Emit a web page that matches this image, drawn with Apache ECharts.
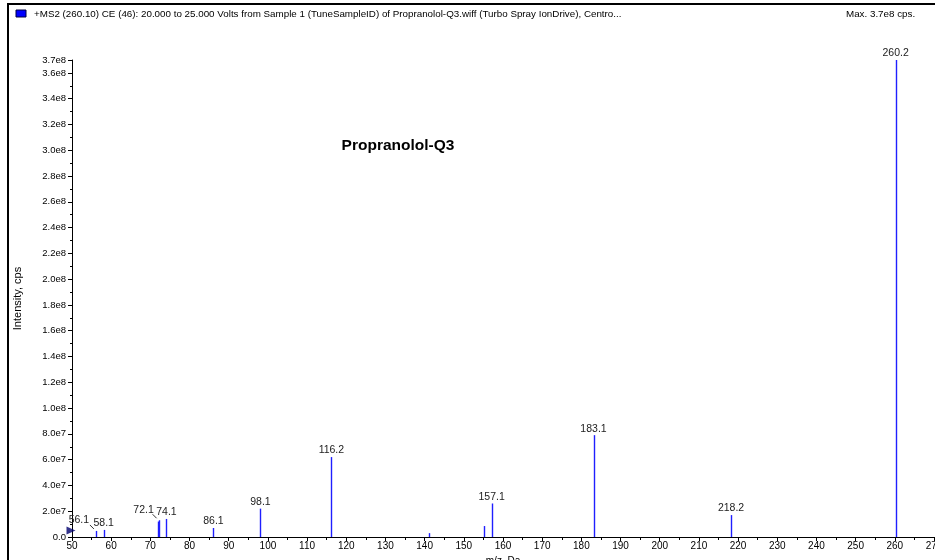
<!DOCTYPE html>
<html><head><meta charset="utf-8">
<script src="https://cdn.jsdelivr.net/npm/echarts@6/dist/echarts.min.js"></script>
<style>html,body{margin:0;padding:0;background:#fff}#c{width:935px;height:560px}</style>
</head><body><div id="c"></div>
<script>
// m/z of each peak, intensity (cps), printed label ('' = unlabeled)
var mz =        [56.1, 58.1, 71.9, 72.1, 74.1, 86.1, 98.1, 116.2, 141.0, 155.1, 157.1, 183.1, 218.2, 260.2];
var intensity = [4.7e6, 5.5e6, 1.2e7, 1.3e7, 1.4e7, 7.0e6, 2.2e7, 6.2e7, 3.0e6, 8.5e6, 2.6e7, 7.9e7, 1.7e7, 3.7e8];
var peakLabels = ['56.1', '58.1', '', '72.1', '74.1', '86.1', '98.1', '116.2', '', '', '157.1', '183.1', '218.2', '260.2'];
var precursor = [[50, 5.0e6]];
var xTicks = [50, 270, 10];
var yTicks = [0, 3.7e8, 2e7];
var headerText = '+MS2 (260.10) CE (46): 20.000 to 25.000 Volts from Sample 1 (TuneSampleID) of Propranolol-Q3.wiff (Turbo Spray IonDrive), Centro...';
var maxText = 'Max. 3.7e8 cps.';
var chartTitle = 'Propranolol-Q3';

var FONT = '"Liberation Sans", Arial, sans-serif';
var data = mz.map(function (m, i) { return [m, intensity[i], peakLabels[i]]; });
// labels that sit to the left of their line with a small leader
var shifted = { '56.1': -17, '72.1': -15 };

function fmtY(v) {
  if (v === 0) return '0.0';
  var e = Math.floor(Math.log10(v) + 1e-9);
  return (v / Math.pow(10, e)).toFixed(1) + 'e' + e;
}

var chart = echarts.init(document.getElementById('c'));
chart.setOption({
  animation: false,
  backgroundColor: '#fff',
  grid: { left: 72, right: 1, top: 60, bottom: 23, containLabel: false, outerBoundsMode: 'none' },
  title: {
    text: chartTitle, left: 393, top: 133, textAlign: 'center',
    textStyle: { fontFamily: FONT, fontSize: 15.5, fontWeight: 'bold', color: '#000' }
  },
  xAxis: {
    type: 'value', min: xTicks[0], max: xTicks[1], interval: xTicks[2],
    name: 'm/z, Da', nameLocation: 'middle', nameGap: 18,
    nameTextStyle: { fontFamily: FONT, fontSize: 10, color: '#000' },
    axisLine: { lineStyle: { color: '#000', width: 1 } },
    axisTick: { length: 4, lineStyle: { color: '#000' } },
    minorTick: { show: true, splitNumber: 2, length: 3, lineStyle: { color: '#000' } },
    axisLabel: { fontFamily: FONT, fontSize: 10, color: '#000', margin: 4 },
    splitLine: { show: false }
  },
  yAxis: {
    type: 'value', min: yTicks[0], max: yTicks[1], interval: yTicks[2],
    name: 'Intensity, cps', nameLocation: 'middle', nameGap: 49, nameRotate: 90,
    nameTextStyle: { fontFamily: FONT, fontSize: 11, color: '#000' },
    axisLine: { show: true, lineStyle: { color: '#000', width: 1 } },
    axisTick: { show: true, length: 4, lineStyle: { color: '#000' } },
    minorTick: { show: true, splitNumber: 2, length: 2, lineStyle: { color: '#000' } },
    axisLabel: { fontFamily: FONT, fontSize: 9.5, color: '#000', margin: 6, formatter: fmtY },
    splitLine: { show: false }
  },
  graphic: [
    { type: 'line', shape: { x1: 8, y1: 4, x2: 935, y2: 4 }, style: { stroke: '#000', lineWidth: 2 } },
    { type: 'line', shape: { x1: 8, y1: 3, x2: 8, y2: 560 }, style: { stroke: '#000', lineWidth: 2 } },
    { type: 'rect', shape: { x: 16, y: 10, width: 10, height: 7 }, style: { fill: '#0000ff', stroke: '#000040', lineWidth: 1 } },
    { type: 'text', x: 34, y: 14, style: { text: headerText, fontFamily: FONT, fontSize: 9.8, fill: '#000', verticalAlign: 'middle' } },
    { type: 'text', x: 846, y: 14, style: { text: maxText, fontFamily: FONT, fontSize: 9.8, fill: '#000', verticalAlign: 'middle' } }
  ],
  series: [
    {
      type: 'custom',
      data: data,
      renderItem: function (params, api) {
        var x = api.value(0), y = api.value(1);
        var lab = data[params.dataIndex][2];
        var p0 = api.coord([x, 0]), p1 = api.coord([x, y]);
        var children = [{
          type: 'line',
          shape: { x1: Math.round(p0[0]) + 0.5, y1: p0[1], x2: Math.round(p0[0]) + 0.5, y2: p1[1] },
          style: { stroke: '#1f1fff', lineWidth: 1.4 }
        }];
        if (lab) {
          var dx = shifted[lab] || 0;
          var ty = p1[1] - 1;
          if (dx) {
            ty = p1[1] - 1;
            children.push({
              type: 'line',
              shape: { x1: p0[0] - 6, y1: ty - 5, x2: p0[0] - 2, y2: ty - 1 },
              style: { stroke: '#333', lineWidth: 1 }
            });
            ty -= 4;
          }
          children.push({
            type: 'text', x: p0[0] + dx, y: ty,
            style: { text: lab, fontFamily: FONT, fontSize: 10.5, fill: '#222', align: 'center', verticalAlign: 'bottom' }
          });
        }
        return { type: 'group', children: children };
      },
      z: 3
    },
    {
      type: 'scatter', data: precursor, symbol: 'triangle', symbolRotate: -90,
      symbolSize: [8, 9], symbolOffset: [-1, 0], itemStyle: { color: '#00006e' }, z: 4
    }
  ]
});
</script></body></html>
